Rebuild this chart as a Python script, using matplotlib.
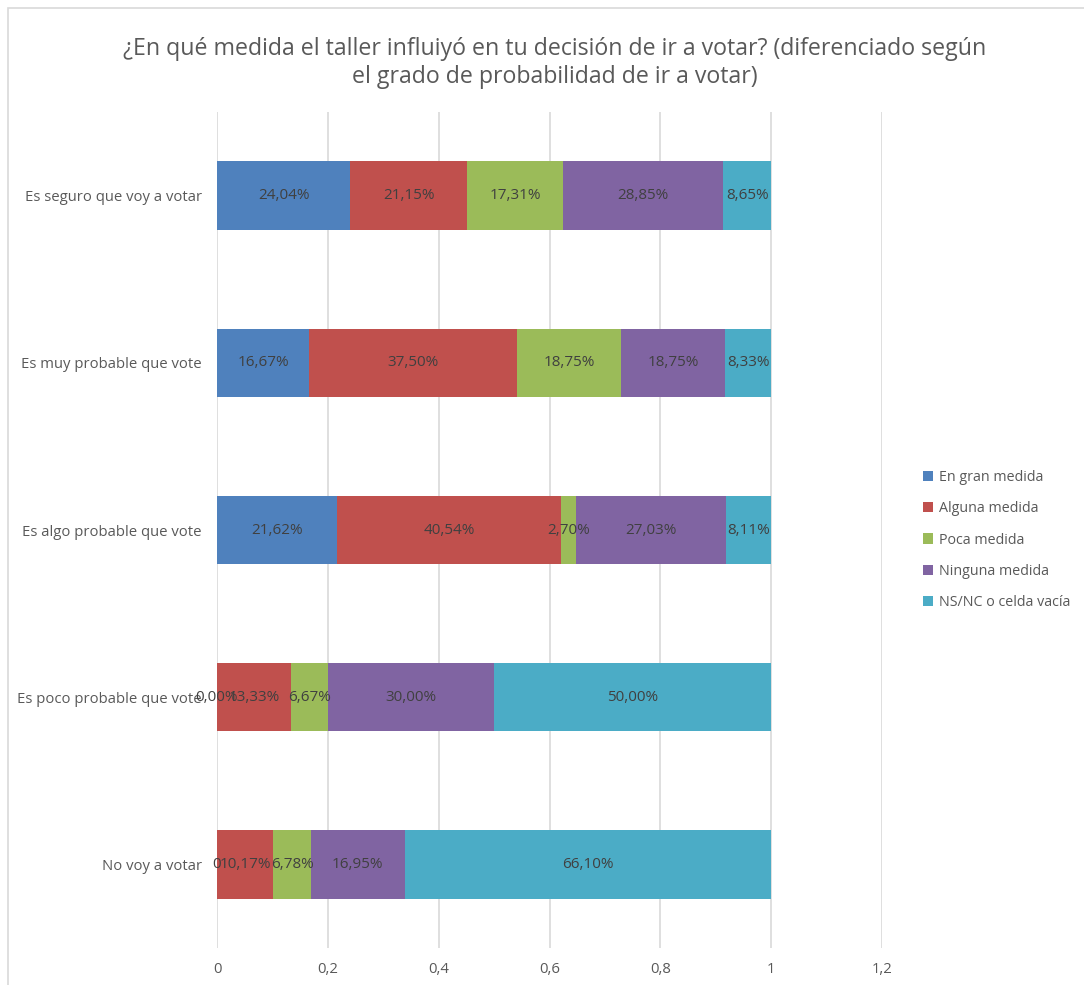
import numpy as np
import matplotlib.pyplot as plt
from matplotlib.patches import Rectangle

plt.rcParams['font.family'] = ['Open Sans', 'DejaVu Sans']

# Categories (top to bottom) and series shares
categories = ["Es seguro que voy a votar", "Es muy probable que vote",
              "Es algo probable que vote", "Es poco probable que vote",
              "No voy a votar"]
series = ["En gran medida", "Alguna medida", "Poca medida",
          "Ninguna medida", "NS/NC o celda vacía"]
en_gran = [0.2404, 0.1667, 0.2162, 0.0, 0.0]
alguna = [0.2115, 0.3750, 0.4054, 0.1333, 0.1017]
poca = [0.1731, 0.1875, 0.0270, 0.0667, 0.0678]
ninguna = [0.2885, 0.1875, 0.2703, 0.3000, 0.1695]
nsnc = [0.0865, 0.0833, 0.0811, 0.5000, 0.6610]
colors = ["#4F81BD", "#C0504D", "#9BBB59", "#8064A2", "#4BACC6"]
xticks = [0, 0.2, 0.4, 0.6, 0.8, 1, 1.2]
xtick_labels = ["0", "0,2", "0,4", "0,6", "0,8", "1", "1,2"]

fig = plt.figure(figsize=(10.84, 9.85), dpi=100)
ax = fig.add_axes([217 / 1084, 37 / 985, 665 / 1084, 836 / 985])

# outer chart border
fig.patches.append(Rectangle((8 / 1084, -0.02), 1.1, 977 / 985 + 0.02,
                             transform=fig.transFigure, fill=False,
                             edgecolor="#D9D9D9", linewidth=1.2))

y = np.arange(len(categories))
left = np.zeros(len(categories))
for name, vals, col in zip(series, [en_gran, alguna, poca, ninguna, nsnc], colors):
    vals = np.array(vals)
    ax.barh(y, vals, left=left, height=0.41, color=col, label=name, zorder=3)
    for yi, l, v in zip(y, left, vals):
        if v == 0 and yi == 4:
            txt = "0"
        else:
            txt = f"{v * 100:.2f}%".replace(".", ",")
        ax.text(l + v / 2, yi, txt, ha="center", va="center",
                fontsize=11, color="#404040", zorder=4)
    left += vals

ax.set_xlim(0, 1.2)
ax.set_ylim(len(categories) - 0.5, -0.5)
ax.set_xticks(xticks)
ax.set_xticklabels(xtick_labels)
ax.set_yticks(y)
ax.set_yticklabels(categories)
ax.grid(axis="x", color="#D9D9D9", linewidth=1.2, zorder=0)
for s in ax.spines.values():
    s.set_visible(False)
ax.tick_params(axis="both", length=0, labelsize=10.7, colors="#595959")
ax.tick_params(axis="y", pad=11)
ax.tick_params(axis="x", pad=10)

fig.text(0.512, 0.936, "¿En qué medida el taller influiyó en tu decisión de ir a votar? (diferenciado según\nel grado de probabilidad de ir a votar)",
         ha="center", va="center", fontsize=16.7, color="#595959", linespacing=1.2)

leg = fig.legend(loc="center left", bbox_to_anchor=(910 / 1084, 1 - 540 / 985),
                 frameon=False, fontsize=10.3, handlelength=0.7, handleheight=0.7,
                 handletextpad=0.4, labelspacing=1.12, labelcolor="#595959")

fig.savefig("out.png", dpi=100)
